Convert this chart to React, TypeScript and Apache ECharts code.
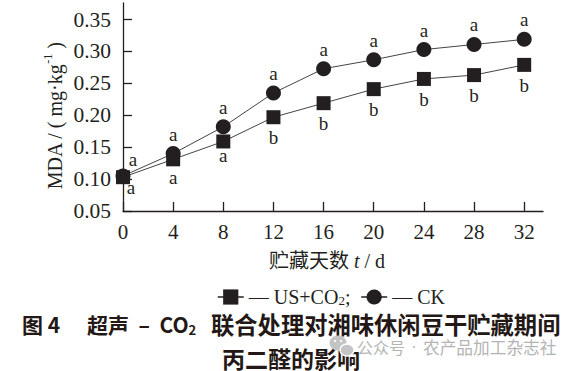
import React, { useEffect, useRef } from 'react';
import * as echarts from 'echarts';

// ---- data ----
const days = [0, 4, 8, 12, 16, 20, 24, 28, 32];
const usValues = [0.103, 0.131, 0.159, 0.197, 0.219, 0.241, 0.257, 0.263, 0.279];
const ckValues = [0.105, 0.140, 0.182, 0.235, 0.273, 0.287, 0.303, 0.311, 0.319];
const usLetters = ['a', 'a', 'a', 'b', 'b', 'b', 'b', 'b', 'b'];
const ckLetters = ['a', 'a', 'a', 'a', 'a', 'a', 'a', 'a', 'a'];
const yTicks = [0.05, 0.10, 0.15, 0.20, 0.25, 0.30, 0.35];
const xTicks = [0, 4, 8, 12, 16, 20, 24, 28, 32];
const seriesNames = ['US+CO2', 'CK'];

const SERIF = '"Liberation Serif", "Noto Sans CJK SC", serif';
const SANS = '"Noto Sans CJK SC", sans-serif';
const INK = '#231f20';
const CAP = '#231815';
const WM = '#b4b4b4';

const usLabelTweaks: Record<number, any> = { 0: { offset: [8, -10] }, 1: { offset: [0, -2] }, 2: { offset: [0, -6] } };
const ckLabelTweaks: Record<number, any> = { 0: { offset: [10, 3] } };

function buildOption() {
  const usData = days.map((d, i) => ({ value: [d, usValues[i]], label: usLabelTweaks[i] }));
  const ckData = days.map((d, i) => ({ value: [d, ckValues[i]], label: ckLabelTweaks[i] }));
  return {
    animation: false,
    backgroundColor: '#ffffff',
    grid: { left: 123, right: 33, top: 3, bottom: 160, containLabel: false },
    xAxis: {
      type: 'value',
      min: 0,
      max: 33.5,
      interval: 4,
      splitLine: { show: false },
      axisLine: { show: true, onZero: false, lineStyle: { color: INK, width: 1.3 } },
      axisTick: { show: true, inside: true, length: 9, customValues: xTicks, lineStyle: { color: INK, width: 1.3 } },
      axisLabel: { customValues: xTicks, margin: 10, fontSize: 21, fontFamily: SERIF, color: INK },
    },
    yAxis: {
      type: 'value',
      min: 0.05,
      max: 0.376,
      interval: 0.05,
      splitLine: { show: false },
      axisLine: { show: true, onZero: false, lineStyle: { color: INK, width: 1.3 } },
      axisTick: { show: true, inside: true, length: 9, customValues: yTicks, lineStyle: { color: INK, width: 1.3 } },
      axisLabel: {
        customValues: yTicks,
        margin: 12,
        fontSize: 21.5,
        fontFamily: SERIF,
        color: INK,
        formatter: (v: number) => v.toFixed(2),
      },
    },
    legend: {
      left: 212,
      top: 282,
      itemWidth: 26,
      itemHeight: 19,
      itemGap: 10,
      data: seriesNames,
      lineStyle: { color: INK, width: 1.5 },
      formatter: (name: string) => (name === 'CK' ? '{n|— CK}' : '{n|— US+CO}{s|2}{n|;}'),
      textStyle: {
        fontSize: 20,
        fontFamily: SERIF,
        color: INK,
        rich: {
          n: { fontSize: 20, fontFamily: SERIF, color: INK, lineHeight: 21 },
          s: { fontSize: 13, fontFamily: SERIF, color: INK, verticalAlign: 'bottom' },
        },
      },
    },
    series: [
      {
        name: seriesNames[0],
        type: 'line',
        symbol: 'rect',
        symbolSize: 14,
        data: usData,
        itemStyle: { color: INK },
        lineStyle: { color: '#444', width: 1 },
        label: {
          show: true,
          position: 'bottom',
          distance: 4,
          fontSize: 19,
          fontFamily: SERIF,
          color: INK,
          formatter: (p: any) => usLetters[p.dataIndex],
        },
        z: 3,
      },
      {
        name: seriesNames[1],
        type: 'line',
        symbol: 'circle',
        symbolSize: 15,
        data: ckData,
        itemStyle: { color: INK },
        lineStyle: { color: '#444', width: 1 },
        label: {
          show: true,
          position: 'top',
          distance: 2.5,
          fontSize: 19,
          fontFamily: SERIF,
          color: INK,
          formatter: (p: any) => ckLetters[p.dataIndex],
        },
        z: 2,
      },
    ],
    graphic: [
      {
        type: 'text',
        x: 55,
        y: 116,
        rotation: Math.PI / 2,
        style: {
          text: '{n|MDA / ( mg·kg}{s|-1}{n| )}',
          align: 'center',
          verticalAlign: 'middle',
          fill: INK,
          rich: {
            n: { fontSize: 20, fontFamily: SERIF, fill: INK, lineHeight: 26 },
            s: { fontSize: 12, fontFamily: SERIF, fill: INK, verticalAlign: 'top' },
          },
        },
      },
      {
        type: 'text',
        x: 327,
        y: 261,
        style: {
          text: '{n|贮藏天数 }{i|t}{n| / d}',
          align: 'center',
          verticalAlign: 'middle',
          fill: INK,
          rich: {
            n: { fontSize: 20, fontFamily: SERIF, fill: INK },
            i: { fontSize: 20, fontFamily: SERIF, fontStyle: 'italic', fill: INK },
          },
        },
      },
      {
        type: 'text',
        x: 22,
        y: 324,
        style: { text: '图 4', align: 'left', verticalAlign: 'middle', fontSize: 21, fontWeight: 'bold', fontFamily: SANS, fill: CAP },
      },
      {
        type: 'text',
        x: 87,
        y: 324,
        style: {
          text: '{b|超声  –  CO}{s|2}',
          align: 'left',
          verticalAlign: 'middle',
          fill: CAP,
          rich: {
            b: { fontSize: 21, fontWeight: 'bold', fontFamily: SANS, fill: CAP, lineHeight: 24 },
            s: { fontSize: 13, fontWeight: 'bold', fontFamily: SANS, fill: CAP, verticalAlign: 'bottom' },
          },
        },
      },
      {
        type: 'text',
        x: 211,
        y: 324,
        style: { text: '联合处理对湘味休闲豆干贮藏期间', align: 'left', verticalAlign: 'middle', fontSize: 23.3, fontWeight: 'bold', fontFamily: SANS, fill: CAP },
      },
      {
        type: 'text',
        x: 222,
        y: 357.5,
        style: { text: '丙二醛的影响', align: 'left', verticalAlign: 'middle', fontSize: 23, fontWeight: 'bold', fontFamily: SANS, fill: CAP },
      },
      {
        type: 'group',
        children: [
          { type: 'ellipse', shape: { cx: 338, cy: 343, rx: 8.5, ry: 7.5 }, style: { fill: '#c4c4c4' } },
          { type: 'ellipse', shape: { cx: 347, cy: 350, rx: 7, ry: 6 }, style: { fill: '#c4c4c4', stroke: '#ffffff', lineWidth: 1.5 } },
          { type: 'circle', shape: { cx: 335, cy: 341, r: 1.1 }, style: { fill: '#ffffff' } },
          { type: 'circle', shape: { cx: 341, cy: 341, r: 1.1 }, style: { fill: '#ffffff' } },
        ],
      },
      {
        type: 'text',
        x: 357,
        y: 347,
        style: { text: '公众号', align: 'left', verticalAlign: 'middle', fontSize: 16, fontFamily: SANS, fill: WM },
      },
      {
        type: 'text',
        x: 414,
        y: 347,
        style: { text: '·', align: 'center', verticalAlign: 'middle', fontSize: 16, fontFamily: SERIF, fill: WM },
      },
      {
        type: 'text',
        x: 423,
        y: 347,
        style: { text: '农产品加工杂志社', align: 'left', verticalAlign: 'middle', fontSize: 16.7, fontFamily: SANS, fill: WM },
      },
    ],
  };
}

export default function App() {
  const ref = useRef<HTMLDivElement>(null);
  useEffect(() => {
    const chart = echarts.init(ref.current as HTMLDivElement, null, { renderer: 'svg' });
    chart.setOption(buildOption() as any);
    return () => chart.dispose();
  }, []);
  return (
    <div
      ref={ref}
      style={{ position: 'absolute', left: 0, top: 0, width: 576, height: 371, background: '#fff' }}
    />
  );
}
